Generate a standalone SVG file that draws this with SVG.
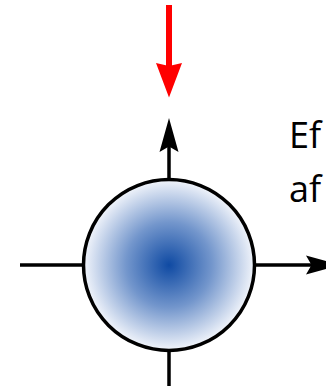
<svg xmlns="http://www.w3.org/2000/svg" width="326" height="386" viewBox="0 0 326 386">
<style>
.ln{stroke:#000;stroke-width:3.5;fill:none}
.lbl{font-family:"Open Sans","Liberation Sans",sans-serif;font-size:36px;fill:#000}
</style>
<defs>
<radialGradient id="g" cx="0.5" cy="0.5" r="0.5">
<stop offset="0" stop-color="#0f4aa3"/>
<stop offset="0.5" stop-color="#7396cc"/>
<stop offset="1" stop-color="#f2f5fb"/>
</radialGradient>
</defs>
<rect width="326" height="386" fill="#fff"/>
<g id="connectors">
<line class="ln" x1="20" y1="265" x2="84" y2="265"/>
<line class="ln" x1="169" y1="350" x2="169" y2="386"/>
<line class="ln" x1="169" y1="179" x2="169" y2="145"/>
<path d="M169,118 L178.5,152 L169,146.5 L159.5,152 Z" fill="#000"/>
<line class="ln" x1="254" y1="265" x2="312" y2="265"/>
<path d="M340,265 L306,255.5 L311.5,265 L306,274.5 Z" fill="#000"/>
<line x1="169" y1="5" x2="169" y2="66" stroke="#f00" stroke-width="6"/>
<path d="M169,97.5 L156,63 L169,66 L182,63 Z" fill="#f00"/>
</g>
<g id="node-ball">
<circle cx="169" cy="265" r="85.5" fill="url(#g)" stroke="#000" stroke-width="3.5"/>
</g>
<g id="label">
<text class="lbl" x="289" y="148">Ef</text>
<text class="lbl" x="289" y="202">af</text>
</g>
</svg>
